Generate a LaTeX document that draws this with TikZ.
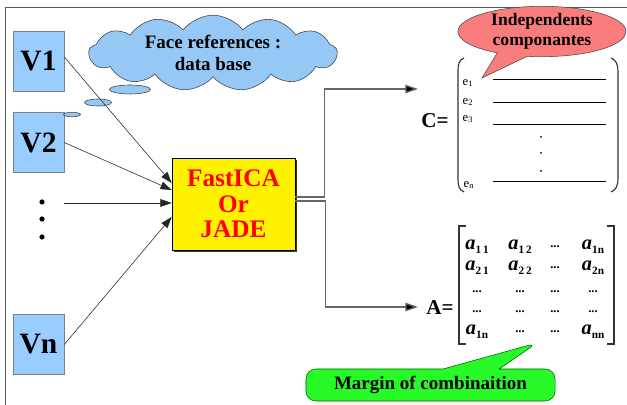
\documentclass[tikz,border=0pt]{standalone}
\usepackage{fontspec}
\setmainfont{Liberation Serif}
\usetikzlibrary{arrows.meta, calc, positioning, shadows, shapes, shapes.symbols, shapes.callouts}
\definecolor{vblue}{RGB}{153,204,255}
\definecolor{cloudblue}{RGB}{150,200,245}
\definecolor{callred}{RGB}{250,125,125}
\definecolor{callgreen}{RGB}{40,250,40}
\newcommand{\aij}[1]{\textit{a}\raisebox{-0.45ex}{\fontsize{8}{9}\selectfont\upshape #1}}
\newcommand{\dd}{{\fontsize{9}{10}\selectfont\bfseries ...}}
\tikzset{
    frameline/.style={draw=black!65, line width=0.6pt},
    vbox/.style={draw=black!50, fill=vblue, minimum width=1.275cm, minimum height=1.5cm,
        inner sep=0pt, font=\fontsize{21}{24}\selectfont\bfseries},
    facecloud/.style={cloud, cloud puffs=13, cloud puff arc=105, aspect=4.6, draw=black!75,
        fill=cloudblue, minimum width=6.2cm, minimum height=1.3cm, inner sep=0pt,
        align=center, font=\fontsize{13.5}{15.5}\selectfont\bfseries},
    bubble/.style={draw=black!75, fill=cloudblue, line width=0.4pt},
    algobox/.style={draw=black, fill=yellow, text=red, minimum width=3.075cm, minimum height=2.3cm,
        align=center, font=\fontsize{18}{18}\selectfont\bfseries,
        drop shadow={shadow xshift=1.2pt, shadow yshift=-1.2pt, fill=black!80, opacity=1}},
    inarrow/.style={draw=black!85, line width=0.4pt, -{Triangle[length=8pt, width=5.5pt]}},
    outline/.style={draw=black!60, line width=0.9pt, -{Triangle[length=9pt, width=6pt, fill=black]}},
    eqlabel/.style={font=\fontsize{15}{17}\selectfont\bfseries, inner sep=0pt},
    rowlab/.style={font=\fontsize{9}{10}\selectfont, inner sep=0pt},
    paren/.style={draw=black!80, line width=0.8pt},
    bracket/.style={draw=black!80, line width=1.4pt},
    entry/.style={font=\fontsize{14.5}{16}\selectfont\bfseries, inner sep=0pt},
    redcall/.style={ellipse callout, callout pointer arc=22, draw=black!70, fill=callred,
        minimum width=4.2cm, minimum height=1.075cm, inner sep=0pt, align=center,
        font=\fontsize{12.5}{14}\selectfont\bfseries},
    greencall/.style={rectangle callout, callout pointer width=1.4cm, rounded corners=7pt,
        draw=black!60!green, fill=callgreen, minimum width=6.225cm, minimum height=0.8cm,
        inner sep=0pt, font=\fontsize{13.5}{15}\selectfont\bfseries}
}
\begin{document}
\begin{tikzpicture}[x=0.025cm, y=-0.025cm]
    \useasboundingbox (0,0) rectangle (627,405);
    \draw[frameline] (5,405) -- (5,7) -- (627,7);
    % inputs
    \node[vbox] (v1) at (38.5,61) {V1};
    \node[vbox] (v2) at (38.5,142.5) {V2};
    \node[vbox] (vn) at (38.5,344.5) {Vn};
    \foreach \y in {202,219,237}
        \fill (42,\y) circle (2.6);
    \coordinate (vdots) at (64,203);
    % data base cloud
    \node[facecloud] (db) at (213,53) {Face references :\\data base};
    \foreach \cx/\cy/\rx/\ry in {130/89.5/20.5/4.5, 98/102.5/13.5/3.5, 72/114.5/8.5/2.2}
        \draw[bubble] (\cx,\cy) ellipse [x radius=\rx, y radius=\ry];
    % algorithm
    \node[algobox] (ica) at (233.5,204) {FastICA\\Or\\JADE};
    \draw[inarrow] ($(v1.east)+(0,-4)$) -- ($(ica.west)+(0,-21)$);
    \draw[inarrow] (v2.east) -- ($(ica.west)+(0,-14)$);
    \draw[inarrow] (vdots) -- ($(ica.west)+(0,-1)$);
    \draw[inarrow] (vn.east) -- ($(ica.west)+(0,13)$);
    % outputs
    \coordinate (ctip) at (418,89);
    \coordinate (atip) at (418,307);
    \draw[outline] ($(ica.east)+(0,-7)$) -- ++(29,0) |- (ctip);
    \draw[outline] ($(ica.east)+(0,-3)$) -- ++(30,0) |- (atip);
    % matrix C
    \node[eqlabel] (ceq) at (435,121) {C=};
    \draw[paren] (464,58) .. controls (459,60) and (458,64) .. (458,72) -- (458,178)
        .. controls (458,186) and (459,190) .. (464,192);
    \draw[paren] (611,58) .. controls (616,60) and (618,64) .. (618,72) -- (618,178)
        .. controls (618,186) and (616,190) .. (611,192);
    \foreach \lab/\lx/\ly/\y [count=\i] in {1/468/83/79, 2/468/102/102, 3/468/119/124, n/469/185/181}{
        \node[rowlab] (e\i) at (\lx,\ly) {e\textsubscript{\lab}};
        \draw[line width=0.6pt] (493,\y) -- (606,\y);
    }
    \foreach \y in {137,153,171}
        \fill (541,\y) circle (1);
    % matrix A
    \node[eqlabel] (aeq) at (440,308) {A=};
    \draw[bracket] (466,226) -- (459,226) -- (459,344) -- (466,344);
    \draw[bracket] (607,226) -- (614,226) -- (614,344) -- (607,344);
    \foreach \y/\ea/\eb/\ec/\ed [count=\r] in {
        247/\aij{1\,1}/\aij{1\,2}/\dd/\aij{1n},
        268/\aij{2\,1}/\aij{2\,2}/\dd/\aij{2n},
        292/\dd/\dd/\dd/\dd,
        312/\dd/\dd/\dd/\dd,
        332/\aij{1n}/\dd/\dd/\aij{nn}}{
        \node[entry] (a\r1) at (477,\y) {\ea};
        \node[entry] (a\r2) at (520,\y) {\eb};
        \node[entry] (a\r3) at (555,\y) {\ec};
        \node[entry] (a\r4) at (593,\y) {\ed};
    }
    % callouts
    \coordinate (ctail) at (482,78);
    \coordinate (atail) at (537,343);
    \node[redcall, callout absolute pointer={(ctail)}] (indep) at (542,31.5) {Independents\\componantes};
    \node[greencall, callout absolute pointer={(atail)}] (marg) at (430.5,385) {Margin of combinaition};
\end{tikzpicture}
\end{document}
